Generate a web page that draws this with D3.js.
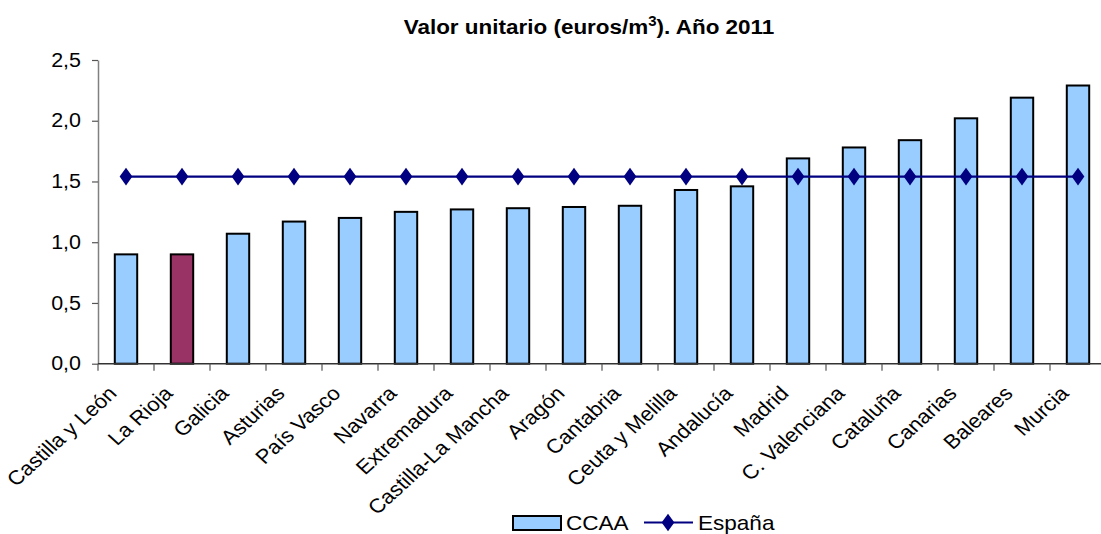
<!DOCTYPE html>
<html>
<head>
<meta charset="utf-8">
<script src="https://cdn.jsdelivr.net/npm/d3@7"></script>
<style>
  body { margin: 0; background: #fff; }
  svg { display: block; font-family: "Liberation Sans", Arial, Helvetica, sans-serif; }
</style>
</head>
<body>
<svg width="1101" height="534"></svg>
<script>
const regiones = ["Castilla y León", "La Rioja", "Galicia", "Asturias", "País Vasco", "Navarra",
  "Extremadura", "Castilla-La Mancha", "Aragón", "Cantabria", "Ceuta y Melilla", "Andalucía",
  "Madrid", "C. Valenciana", "Cataluña", "Canarias", "Baleares", "Murcia"];
const valoresCCAA = [0.90, 0.90, 1.07, 1.17, 1.20, 1.25, 1.27, 1.28, 1.29, 1.30, 1.43, 1.46,
  1.69, 1.78, 1.84, 2.02, 2.19, 2.29];
const valorEspana = 1.54;
const ticksY = [0, 0.5, 1.0, 1.5, 2.0, 2.5];
const destacada = "La Rioja";

const svg = d3.select("svg");
const mIzq = 98, mDer = 1106, mSup = 60, mInf = 363.7;
const ancho = 1.1; // el texto del original es algo más ancho

const x = d3.scaleBand()
  .domain(regiones)
  .range([mIzq, mDer])
  .paddingInner(0.6)
  .paddingOuter(0.3);

const y = d3.scaleLinear()
  .domain([0, 2.5])
  .range([mInf, mSup]);

const coma = v => d3.format(".1f")(v).replace(".", ",");

// titulo
const titulo = svg.append("text")
  .attr("transform", `translate(589,34) scale(1.07,1)`)
  .attr("text-anchor", "middle")
  .attr("font-size", 21)
  .attr("font-weight", "bold")
  .attr("fill", "#000");
titulo.append("tspan").text("Valor unitario (euros/m");
titulo.append("tspan").attr("font-size", 14).attr("dy", -8).text("3");
titulo.append("tspan").attr("dy", 8).text("). Año 2011");

// eje Y
const ejeY = svg.append("g")
  .attr("transform", `translate(${mIzq},0)`)
  .call(d3.axisLeft(y).tickValues(ticksY).tickFormat(coma).tickSize(6).tickSizeOuter(0).tickPadding(11));
ejeY.select(".domain").attr("stroke", "#808080").attr("stroke-width", 1.5);
ejeY.selectAll(".tick line").attr("stroke", "#555").attr("stroke-width", 1.2);
ejeY.selectAll(".tick text")
  .attr("x", null)
  .attr("transform", `translate(-17,0) scale(${ancho},1)`)
  .attr("font-size", 19.5).attr("fill", "#000")
  .attr("font-family", "Liberation Sans, Arial, sans-serif");

// barras
svg.append("g").selectAll("rect")
  .data(regiones)
  .join("rect")
  .attr("x", d => x(d))
  .attr("y", (d, i) => y(valoresCCAA[i]))
  .attr("width", x.bandwidth())
  .attr("height", (d, i) => mInf - y(valoresCCAA[i]))
  .attr("fill", d => d === destacada ? "#993366" : "#99ccff")
  .attr("stroke", "#000")
  .attr("stroke-width", 2);

// eje X
svg.append("line")
  .attr("x1", mIzq).attr("x2", mDer)
  .attr("y1", mInf).attr("y2", mInf)
  .attr("stroke", "#333").attr("stroke-width", 1.5);
const paso = x.step();
svg.append("g").selectAll("line")
  .data(d3.range(regiones.length + 1))
  .join("line")
  .attr("x1", i => mIzq + i * paso).attr("x2", i => mIzq + i * paso)
  .attr("y1", mInf).attr("y2", mInf + 7)
  .attr("stroke", "#555").attr("stroke-width", 1.2);

svg.append("g").selectAll("text")
  .data(regiones)
  .join("text")
  .attr("transform", d => `translate(${x(d) + x.bandwidth() / 2 - 8},${mInf + 31}) scale(${ancho},1) rotate(-45)`)
  .attr("text-anchor", "end")
  .attr("font-size", 20)
  .attr("fill", "#000")
  .text(d => d);

// linea España
const centro = d => x(d) + x.bandwidth() / 2;
const linea = d3.line().x(d => centro(d)).y(() => y(valorEspana));
svg.append("path")
  .datum(regiones)
  .attr("d", linea)
  .attr("fill", "none")
  .attr("stroke", "#000080")
  .attr("stroke-width", 2.2);
const rombo = d3.symbol().type(d3.symbolDiamond).size(90);
svg.append("g").selectAll("path")
  .data(regiones)
  .join("path")
  .attr("d", rombo)
  .attr("transform", d => `translate(${centro(d)},${y(valorEspana)}) scale(1.25,1)`)
  .attr("fill", "#000080");

// leyenda
const ley = svg.append("g");
ley.append("rect")
  .attr("x", 513).attr("y", 516).attr("width", 48).attr("height", 14)
  .attr("fill", "#99ccff").attr("stroke", "#000").attr("stroke-width", 2);
ley.append("text").attr("transform", `translate(566,529.5) scale(${ancho},1)`)
  .attr("font-size", 20.5).text("CCAA");
ley.append("line").attr("x1", 644).attr("x2", 693).attr("y1", 522.5).attr("y2", 522.5)
  .attr("stroke", "#000080").attr("stroke-width", 2.2);
ley.append("path").attr("d", rombo)
  .attr("transform", "translate(668,522.5) scale(1.25,1)")
  .attr("fill", "#000080");
ley.append("text").attr("transform", `translate(698,529.5) scale(${ancho},1)`)
  .attr("font-size", 20.5).text("España");
</script>
</body>
</html>
